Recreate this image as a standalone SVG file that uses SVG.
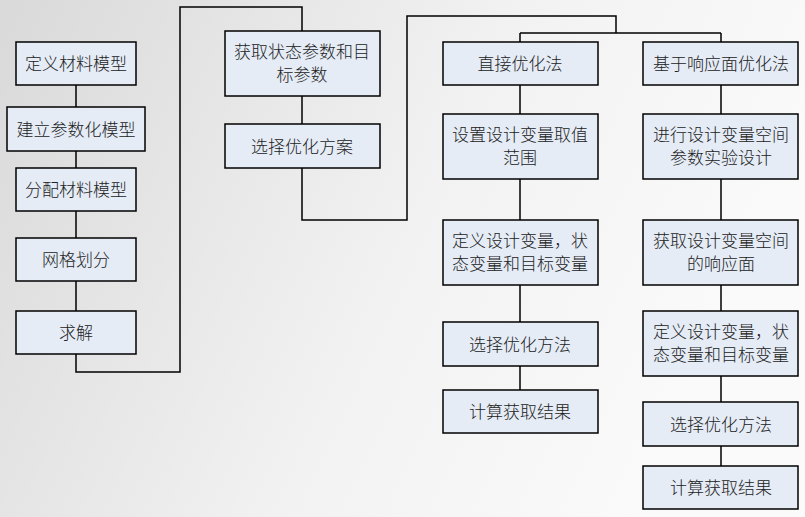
<svg xmlns="http://www.w3.org/2000/svg" width="805" height="517" viewBox="0 0 805 517">
<style>
.n rect{fill:#e5ecf6;stroke:#000;stroke-width:1.5}
.n text{font-family:"Noto Sans CJK SC",sans-serif;font-size:17px;font-weight:300;fill:#222;text-anchor:middle}
.c path{fill:none;stroke:#000;stroke-width:1.5}
</style>
<defs><linearGradient id="bg" x1="0" y1="0" x2="1" y2="0.3"><stop offset="0" stop-color="#d9d9d9"/><stop offset="0.6" stop-color="#f2f2f2"/><stop offset="1" stop-color="#fafafa"/></linearGradient></defs>
<rect width="805" height="517" fill="url(#bg)"/>
<g class="c">
<path d="M76 85V107M76 151V168M76 211V238M76 281V311M76 354V372H180V7H302V31M302 96V124M302 168V220H407V16H616V33M520 33H721M520 33V42M721 33V42M520 85V114M520 179V220M520 285V322M520 366V390M721 85V114M721 179V220M721 285V311M721 376V402M721 446V466"/>
</g>
<g id="n1" class="n"><rect x="16" y="42" width="120" height="43"/><text x="76" y="70">定义材料模型</text></g>
<g id="n2" class="n"><rect x="7" y="107" width="138" height="44"/><text x="76" y="136">建立参数化模型</text></g>
<g id="n3" class="n"><rect x="16" y="168" width="120" height="43"/><text x="76" y="196">分配材料模型</text></g>
<g id="n4" class="n"><rect x="16" y="238" width="120" height="43"/><text x="76" y="266">网格划分</text></g>
<g id="n5" class="n"><rect x="16" y="311" width="120" height="43"/><text x="76" y="339">求解</text></g>
<g id="n6" class="n"><rect x="225" y="31" width="155" height="65"/><text x="302" y="58">获取状态参数和目</text><text x="302" y="81">标参数</text></g>
<g id="n7" class="n"><rect x="225" y="124" width="155" height="44"/><text x="302" y="153">选择优化方案</text></g>
<g id="n8" class="n"><rect x="443" y="42" width="155" height="43"/><text x="520" y="70">直接优化法</text></g>
<g id="n9" class="n"><rect x="643" y="42" width="155" height="43"/><text x="721" y="70">基于响应面优化法</text></g>
<g id="n10" class="n"><rect x="443" y="114" width="155" height="65"/><text x="520" y="141">设置设计变量取值</text><text x="520" y="164">范围</text></g>
<g id="n11" class="n"><rect x="643" y="114" width="155" height="65"/><text x="721" y="141">进行设计变量空间</text><text x="721" y="164">参数实验设计</text></g>
<g id="n12" class="n"><rect x="443" y="220" width="155" height="65"/><text x="520" y="247">定义设计变量，状</text><text x="520" y="270">态变量和目标变量</text></g>
<g id="n13" class="n"><rect x="643" y="220" width="155" height="65"/><text x="721" y="247">获取设计变量空间</text><text x="721" y="270">的响应面</text></g>
<g id="n14" class="n"><rect x="443" y="322" width="155" height="44"/><text x="520" y="351">选择优化方法</text></g>
<g id="n15" class="n"><rect x="643" y="311" width="155" height="65"/><text x="721" y="338">定义设计变量，状</text><text x="721" y="361">态变量和目标变量</text></g>
<g id="n16" class="n"><rect x="443" y="390" width="155" height="43"/><text x="520" y="418">计算获取结果</text></g>
<g id="n17" class="n"><rect x="643" y="402" width="155" height="44"/><text x="721" y="431">选择优化方法</text></g>
<g id="n18" class="n"><rect x="643" y="466" width="155" height="43"/><text x="721" y="494">计算获取结果</text></g>
</svg>
